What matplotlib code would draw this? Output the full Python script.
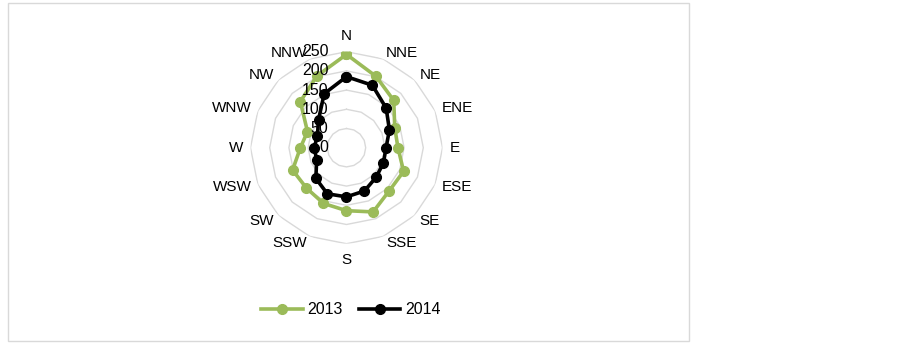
import numpy as np
import matplotlib
matplotlib.use("Agg")
import matplotlib.pyplot as plt
from matplotlib.patches import Rectangle

plt.rcParams['font.family'] = ['Liberation Sans', 'DejaVu Sans']

directions = ["N", "NNE", "NE", "ENE", "E", "ESE", "SE", "SSE",
              "S", "SSW", "SW", "WSW", "W", "WNW", "NW", "NNW"]
vals_2013 = [243, 201, 174, 136, 134, 161, 158, 181, 164, 157, 148, 152, 120, 110, 170, 202]
vals_2014 = [185, 176, 146, 121, 103, 104, 109, 122, 128, 130, 113, 84, 84, 82, 103, 152]
rings = [50, 100, 150, 200, 250]

green = "#9BBB59"
grid_col = "#D9D9D9"

fig = plt.figure(figsize=(9.03, 3.43), dpi=100)

# chart frame
fig.patches.append(Rectangle((7.5 / 903, 2 / 343), 681 / 903, 338 / 343,
                             transform=fig.transFigure, fill=False,
                             edgecolor=grid_col, lw=1))

cx, cy, R = 346.5, 343 - 147.7, 96
ax = fig.add_axes([(cx - R) / 903, (cy - R) / 343, 2 * R / 903, 2 * R / 343],
                  projection='polar')
ax.set_theta_zero_location('N')
ax.set_theta_direction(-1)
ax.set_ylim(0, 250)
ax.grid(False)
ax.spines['polar'].set_visible(False)
ax.set_xticks([])
ax.set_yticks([])
ax.patch.set_alpha(0)

theta = np.deg2rad(np.arange(len(directions)) * 22.5)
tc = np.append(theta, theta[0])

for r in rings:
    ax.plot(tc, [r] * len(tc), color=grid_col, lw=1, zorder=1)

d13 = np.append(vals_2013, vals_2013[0])
d14 = np.append(vals_2014, vals_2014[0])
ax.plot(tc, d13, color=green, lw=2.6, marker='o', ms=7, zorder=3, label="2013")
ax.plot(tc, d14, color='black', lw=2.6, marker='o', ms=7, zorder=4, label="2014")

# radial value labels
for r in [0] + rings:
    ax.annotate(str(r), xy=(0, r), xytext=(-18, 0), textcoords='offset pixels',
                ha='right', va='center', fontsize=11.5, zorder=5)

# direction labels
for t, name in zip(theta, directions):
    s, c = np.sin(t), np.cos(t)
    if abs(s) < 0.2:
        ha = 'center'
        va = 'bottom' if c > 0 else 'top'
        off = (0, 9 * np.sign(c))
    else:
        ha = 'left' if s > 0 else 'right'
        va = 'center'
        off = (7 * s, 7 * c)
    ax.annotate(name, xy=(t, 250), xytext=off, textcoords='offset pixels',
                ha=ha, va=va, fontsize=11)

fig.legend(loc='center', bbox_to_anchor=(351 / 903, 1 - 310 / 343), ncol=2,
           frameon=False, fontsize=11.5, handlelength=2.6, columnspacing=1.0,
           handletextpad=0.3)

fig.savefig("out.png", dpi=100)
